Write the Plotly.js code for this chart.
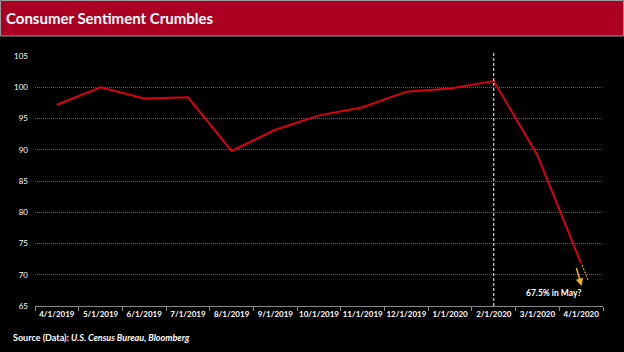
<!DOCTYPE html>
<html><head><meta charset="utf-8">
<script src="https://cdn.plot.ly/plotly-3.0.1.min.js"></script>
<style>html,body{margin:0;padding:0;background:#000;}#chart{width:624px;height:352px;}</style>
</head><body><div id="chart"></div>
<script>
const categories = ['4/1/2019','5/1/2019','6/1/2019','7/1/2019','8/1/2019','9/1/2019','10/1/2019','11/1/2019','12/1/2019','1/1/2020','2/1/2020','3/1/2020','4/1/2020'];
const sentiment = [97.2, 100.0, 98.2, 98.4, 89.8, 93.2, 95.5, 96.8, 99.3, 99.8, 101.0, 89.1, 71.8];
const yTicks = [65, 70, 75, 80, 85, 90, 95, 100, 105];
const markerCategory = '2/1/2020';
const mayNote = '67.5% in May?';

const L = 35, R = 21, T = 56, B = 46, W = 624, H = 352;
const pw = W - L - R, ph = H - T - B;
const px = v => (v - L) / pw;           // page x -> paper x
const py = v => 1 - (v - T) / ph;       // page y -> paper y

const data = [{
  x: categories, y: sentiment, type: 'scatter', mode: 'lines',
  line: {color: '#D90012', width: 2}, hoverinfo: 'x+y'
}];

const layout = {
  width: W, height: H,
  margin: {l: L, r: R, t: T, b: B},
  paper_bgcolor: '#000', plot_bgcolor: '#000',
  showlegend: false,
  font: {family: 'Lato, "Open Sans", sans-serif', color: '#fff'},
  title: {text: '<b>Consumer Sentiment Crumbles</b>', x: 6 / W, xanchor: 'left', xref: 'container',
          y: 1 - 18.5 / H, yanchor: 'middle', yref: 'container',
          font: {size: 15, color: '#fff', family: 'Lato, sans-serif'}},
  xaxis: {type: 'category', range: [-0.5, 12.5], tickson: 'boundaries', ticks: 'outside', ticklen: 4,
          tickangle: 0, tickcolor: '#888', showline: true, linecolor: '#888', linewidth: 1, showgrid: false,
          tickfont: {size: 8, color: '#fff', family: 'Lato, sans-serif', weight: 'bold'}, zeroline: false},
  yaxis: {range: [65, 105], tickvals: yTicks, ticks: '', ticklabelstandoff: 6, showline: false,
          gridcolor: '#5e5e5e', griddash: '1px,1px', gridwidth: 1, zeroline: false,
          tickfont: {size: 8, color: '#fff', family: 'Lato, sans-serif'}},
  shapes: [
    {type: 'rect', xref: 'paper', yref: 'paper', x0: px(0.5), x1: px(623.5), y0: py(36), y1: py(0.5),
     fillcolor: '#AC0022', line: {color: '#9a9a9a', width: 1}, layer: 'below'},
    {type: 'line', xref: 'x', yref: 'paper', x0: markerCategory, x1: markerCategory, y0: 0, y1: py(51),
     line: {color: '#fff', width: 1, dash: '3px,2px'}},
    {type: 'line', xref: 'paper', yref: 'paper', x0: px(582), y0: py(265), x1: px(588.5), y1: py(281),
     line: {color: '#E8A317', width: 1.2, dash: '2px,1.5px'}}
  ],
  annotations: [
    {xref: 'paper', yref: 'paper', x: px(581.5), y: py(286), ax: -5.5, ay: -19.5,
     showarrow: true, arrowhead: 2, arrowsize: 1, arrowwidth: 1.5, arrowcolor: '#F2B01E', text: ''},
    {xref: 'paper', yref: 'paper', x: px(553), y: py(292.5), text: '<b>' + mayNote + '</b>', showarrow: false,
     xanchor: 'center', yanchor: 'middle', font: {size: 8.5, color: '#fff', family: 'Lato, sans-serif'}},
    {xref: 'paper', yref: 'paper', x: px(11), y: py(337), xanchor: 'left', yanchor: 'middle', showarrow: false,
     text: '<b>Source (Data): <i>U.S. Census Bureau, Bloomberg</i></b>',
     font: {size: 9, color: '#fff', family: 'Lato, sans-serif'}}
  ]
};

Plotly.newPlot('chart', data, layout, {displayModeBar: false, staticPlot: true});
</script></body></html>
